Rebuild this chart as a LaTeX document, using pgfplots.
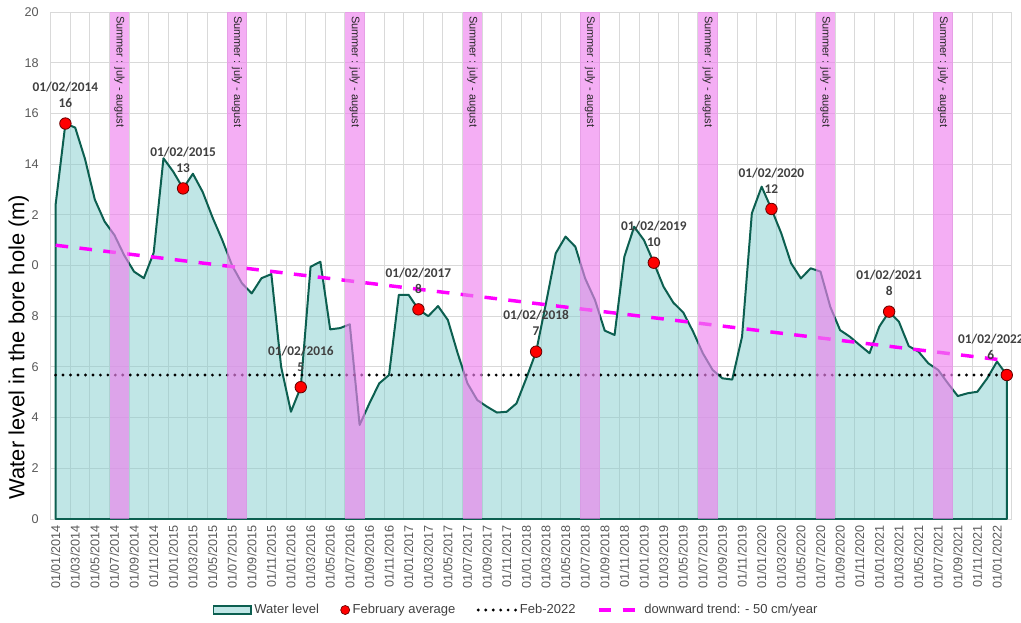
\documentclass[border=0pt]{standalone}
\usepackage{fontspec}
\setmainfont{Liberation Sans}
\newfontfamily\carlito{Carlito}
\usepackage{pgfplots}
\usepackage{pgfplotstable}
\pgfplotsset{compat=1.18}

\definecolor{areafill}{RGB}{130,205,205}
\definecolor{areaLine}{RGB}{12,95,80}
\definecolor{bandpink}{RGB}{238,130,238}
\definecolor{tickgray}{RGB}{89,89,89}
\definecolor{gridgray}{RGB}{217,217,217}
\definecolor{labgray}{RGB}{64,64,64}
\definecolor{markedge}{RGB}{100,0,0}
\definecolor{trendmag}{RGB}{255,0,255}

\pgfplotstableread{
m level
0 12.4
1 15.6
2 15.44
3 14.2
4 12.6
5 11.73
6 11.2
7 10.4
8 9.76
9 9.5
10 10.5
11 14.23
12 13.7
13 13.04
14 13.62
15 12.9
16 11.9
17 11.0
18 10.0
19 9.3
20 8.9
21 9.5
22 9.66
23 6.0
24 4.23
25 5.2
26 9.95
27 10.15
28 7.48
29 7.53
30 7.68
31 3.71
32 4.56
33 5.35
34 5.68
35 8.84
36 8.84
37 8.27
38 8.0
39 8.4
40 7.85
41 6.54
42 5.35
43 4.69
44 4.43
45 4.2
46 4.23
47 4.56
48 5.55
49 6.6
50 8.5
51 10.48
52 11.14
53 10.74
54 9.49
55 8.64
56 7.43
57 7.26
58 10.35
59 11.53
60 11.0
61 10.11
62 9.16
63 8.53
64 8.15
65 7.4
66 6.54
67 5.88
68 5.55
69 5.5
70 7.19
71 12.06
72 13.11
73 12.23
74 11.27
75 10.09
76 9.49
77 9.89
78 9.76
79 8.37
80 7.45
81 7.19
82 6.86
83 6.54
84 7.59
85 8.18
86 7.78
87 6.82
88 6.6
89 6.14
90 5.88
91 5.35
92 4.85
93 4.96
94 5.02
95 5.55
96 6.21
97 5.68
}\leveltable

\pgfplotstableread{
m val date lab
1 15.6 01/02/2014 16
13 13.04 01/02/2015 13
25 5.2 01/02/2016 5
37 8.27 01/02/2017 8
49 6.6 01/02/2018 7
61 10.11 01/02/2019 10
73 12.23 01/02/2020 12
85 8.18 01/02/2021 8
97 5.68 01/02/2022 6
}\febtable

\pgfplotstableread{
x y
6.5 19.85
18.5 19.85
30.5 19.85
42.5 19.85
54.5 19.85
66.5 19.85
78.5 19.85
90.5 19.85
}\summertable

\pgfplotsset{
  feblabel/.style={forget plot, draw=none, mark=none,
    point meta=explicit symbolic,
    nodes near coords={\pgfplotspointmeta},
    every node near coord/.append style={anchor=base, inner sep=0pt,
      font=\carlito\bfseries\fontsize{10}{12}\selectfont, text=labgray}},
}

\begin{document}
\begin{tikzpicture}
\begin{axis}[
  at={(0,0)}, anchor=south west,
  scale only axis, width=720.75pt, height=380.25pt,
  xmin=-0.5, xmax=97.5, ymin=0, ymax=20,
  axis line style={gridgray, line width=0.75pt},
  xtick={0,2,...,96},
  xticklabels={01/01/2014,01/03/2014,01/05/2014,01/07/2014,01/09/2014,01/11/2014,
    01/01/2015,01/03/2015,01/05/2015,01/07/2015,01/09/2015,01/11/2015,
    01/01/2016,01/03/2016,01/05/2016,01/07/2016,01/09/2016,01/11/2016,
    01/01/2017,01/03/2017,01/05/2017,01/07/2017,01/09/2017,01/11/2017,
    01/01/2018,01/03/2018,01/05/2018,01/07/2018,01/09/2018,01/11/2018,
    01/01/2019,01/03/2019,01/05/2019,01/07/2019,01/09/2019,01/11/2019,
    01/01/2020,01/03/2020,01/05/2020,01/07/2020,01/09/2020,01/11/2020,
    01/01/2021,01/03/2021,01/05/2021,01/07/2021,01/09/2021,01/11/2021,
    01/01/2022},
  minor xtick={-0.5,1.5,...,97.5},
  xminorgrids=true, xmajorgrids=false,
  ytick={0,2,...,20}, ymajorgrids=true,
  major tick length=0pt, minor tick length=0pt,
  grid style={gridgray, line width=0.75pt},
  minor grid style={gridgray, line width=0.75pt},
  tick label style={font=\fontsize{9.5}{11}\selectfont, text=tickgray, inner sep=0pt},
  /pgf/number format/assume math mode=true,
  xticklabel style={rotate=90, anchor=east},
  xticklabel shift=4.5pt,
  yticklabel style={anchor=east},
  yticklabel shift=8.8pt,
  ylabel={Water level in the bore hole (m)},
  ylabel style={at={(axis description cs:-0.0202,0.3393)}, anchor=south, rotate=0,
    fill=white, inner sep=1.5pt, font=\fontsize{16.4}{19}\selectfont, text=black},
  legend cell align=left,
  legend style={at={(axis description cs:0.4847,-0.1795)}, anchor=center,
    draw=none, fill=none, font=\fontsize{9.75}{11}\selectfont, text=labgray,
    legend columns=4, /tikz/every even column/.append style={column sep=14pt}},
]
% legend entries
\addlegendimage{legend image code/.code={\draw[fill=areafill, fill opacity=0.5, draw=areaLine, line width=1.2pt] (0pt,-3pt) rectangle (28pt,3pt);}}
\addlegendentry{Water level}
\addlegendimage{legend image code/.code={\draw[fill=red, draw=markedge, line width=0.5pt] (5pt,0pt) circle (3.4pt);}}
\addlegendentry{February average}
\addlegendimage{legend image code/.code={\draw[black, line width=2.4pt, line cap=round, dash pattern=on 0pt off 5.6pt] (1pt,0pt) -- (29pt,0pt);}}
\addlegendentry{Feb-2022}
\addlegendimage{legend image code/.code={\draw[trendmag, line width=2.6pt, dash pattern=on 9.5pt off 8.5pt] (0pt,0pt) -- (31pt,0pt);}}
\addlegendentry{downward trend: - 50 cm/year}

% water level area
\addplot[forget plot, fill=areafill, fill opacity=0.5, draw=areaLine, line width=1.5pt, line join=round]
  table[x=m, y=level]{\leveltable} \closedcycle;

% Feb-2022 level
\addplot[forget plot, black, line width=2.4pt, line cap=round, dash pattern=on 0pt off 5.6pt]
  coordinates {(0,5.68) (97,5.68)};

% trend
\addplot[forget plot, trendmag, line width=2.6pt, dash pattern=on 9.5pt off 8.5pt]
  coordinates {(0,10.8) (97,6.25)};

% summer bands
\addplot[forget plot, fill=bandpink, fill opacity=0.65, draw=none] coordinates {(5.5,0) (5.5,20) (7.5,20) (7.5,0)} -- cycle;
\addplot[forget plot, fill=bandpink, fill opacity=0.65, draw=none] coordinates {(17.5,0) (17.5,20) (19.5,20) (19.5,0)} -- cycle;
\addplot[forget plot, fill=bandpink, fill opacity=0.65, draw=none] coordinates {(29.5,0) (29.5,20) (31.5,20) (31.5,0)} -- cycle;
\addplot[forget plot, fill=bandpink, fill opacity=0.65, draw=none] coordinates {(41.5,0) (41.5,20) (43.5,20) (43.5,0)} -- cycle;
\addplot[forget plot, fill=bandpink, fill opacity=0.65, draw=none] coordinates {(53.5,0) (53.5,20) (55.5,20) (55.5,0)} -- cycle;
\addplot[forget plot, fill=bandpink, fill opacity=0.65, draw=none] coordinates {(65.5,0) (65.5,20) (67.5,20) (67.5,0)} -- cycle;
\addplot[forget plot, fill=bandpink, fill opacity=0.65, draw=none] coordinates {(77.5,0) (77.5,20) (79.5,20) (79.5,0)} -- cycle;
\addplot[forget plot, fill=bandpink, fill opacity=0.65, draw=none] coordinates {(89.5,0) (89.5,20) (91.5,20) (91.5,0)} -- cycle;

% summer texts
\addplot[forget plot, draw=none, mark=none,
  nodes near coords={Summer : july - august},
  every node near coord/.append style={rotate=-90, anchor=west, inner sep=0pt,
    font=\fontsize{8.25}{10}\selectfont, text=black!85}]
  table[x=x, y=y]{\summertable};

% February average points
\addplot[forget plot, only marks, mark=*, mark size=4.3pt,
  mark options={fill=red, draw=markedge, line width=0.6pt}]
  table[x=m, y=val]{\febtable};

% date and value labels (last one pushed left to stay inside the chart)
\addplot[feblabel, restrict x to domain=0:90,
  every node near coord/.append style={yshift=23.8pt}]
  table[x=m, y=val, meta=date]{\febtable};
\addplot[feblabel, restrict x to domain=0:90,
  every node near coord/.append style={yshift=11.8pt}]
  table[x=m, y=val, meta=lab]{\febtable};
\addplot[feblabel, restrict x to domain=95:99,
  every node near coord/.append style={yshift=23.8pt, xshift=-12pt}]
  table[x=m, y=val, meta=date]{\febtable};
\addplot[feblabel, restrict x to domain=95:99,
  every node near coord/.append style={yshift=11.8pt, xshift=-12pt}]
  table[x=m, y=val, meta=lab]{\febtable};
\end{axis}
\pgfresetboundingbox
\path[use as bounding box] (-38.03pt,-77.25pt) rectangle (727.72pt,389.25pt);
\end{tikzpicture}
\end{document}
